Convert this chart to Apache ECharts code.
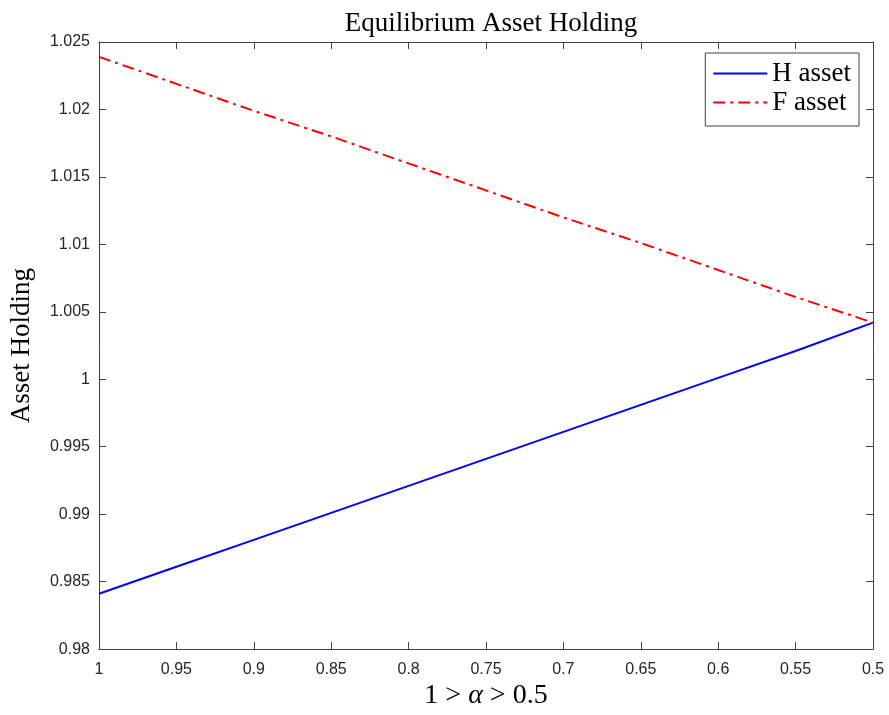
<!DOCTYPE html>
<html>
<head>
<meta charset="utf-8">
<script src="https://cdn.jsdelivr.net/npm/echarts@6/dist/echarts.min.js"></script>
<style>
  html, body { margin: 0; padding: 0; background: #fff; }
  #chart { width: 889px; height: 715px; }
</style>
</head>
<body>
<div id="chart"></div>
<script>
// alpha runs from 1 down to 0.5 (axis reversed)
const alphaValues = [1, 0.95, 0.9, 0.85, 0.8, 0.75, 0.7, 0.65, 0.6, 0.55, 0.5];
const hAsset = [0.9841, 0.9861, 0.9881, 0.9901, 0.9921, 0.9941, 0.9961, 0.9981, 1.0001, 1.0021, 1.0042];
const fAsset = [1.0239, 1.0219, 1.0199, 1.0180, 1.0160, 1.0140, 1.0120, 1.0101, 1.0081, 1.0061, 1.0042];

const serif = "'Liberation Serif', 'DejaVu Serif', serif";
const sans = "'Liberation Sans', Arial, sans-serif";
const axisColor = "#404040";

const chart = echarts.init(document.getElementById("chart"));

const xBase = {
  type: "value",
  min: 0.5,
  max: 1,
  interval: 0.05,
  inverse: true,
  splitLine: { show: false },
  axisLine: { show: true, onZero: false, lineStyle: { color: axisColor, width: 1 } },
  axisTick: { show: true, inside: true, length: 7, lineStyle: { color: axisColor } },
};
const yBase = {
  type: "value",
  min: 0.98,
  max: 1.025,
  interval: 0.005,
  splitLine: { show: false },
  axisLine: { show: true, onZero: false, lineStyle: { color: axisColor, width: 1 } },
  axisTick: { show: true, inside: true, length: 7, lineStyle: { color: axisColor } },
};

const option = {
  animation: false,
  backgroundColor: "#fff",
  title: {
    text: "Equilibrium Asset Holding",
    left: 486,
    textAlign: "center",
    top: 5,
    textStyle: { fontFamily: serif, fontWeight: "normal", fontSize: 27, color: "#000" },
  },
  legend: {
    orient: "vertical",
    right: 30,
    top: 53,
    itemWidth: 54,
    itemHeight: 14,
    itemGap: 2,
    padding: [7, 8, 10, 7],
    backgroundColor: "#fff",
    borderColor: axisColor,
    borderWidth: 1,
    borderRadius: 0,
    itemStyle: { opacity: 0 },
    textStyle: { fontFamily: serif, fontSize: 27, color: "#000" },
    data: ["H asset", "F asset"],
  },
  grid: { left: 99, right: 16, top: 42, bottom: 63 },
  xAxis: [
    Object.assign({}, xBase, {
      position: "bottom",
      name: "{n|1 > }{a|α}{n| > 0.5}",
      nameLocation: "middle",
      nameGap: 30,
      nameTextStyle: {
        rich: {
          n: { fontFamily: serif, fontSize: 28, color: "#000" },
          a: { fontFamily: serif, fontSize: 28, fontStyle: "italic", color: "#000" },
        },
      },
      axisLabel: {
        show: true,
        margin: 12,
        fontFamily: sans,
        fontSize: 16,
        color: "#262626",
        formatter: (v) => String(+v.toFixed(2)),
      },
    }),
    Object.assign({}, xBase, { position: "top", axisLabel: { show: false } }),
  ],
  yAxis: [
    Object.assign({}, yBase, {
      position: "left",
      name: "Asset Holding",
      nameLocation: "middle",
      nameGap: 64,
      nameRotate: 90,
      nameTextStyle: { fontFamily: serif, fontSize: 27, color: "#000" },
      axisLabel: {
        show: true,
        margin: 9,
        fontFamily: sans,
        fontSize: 16,
        color: "#262626",
        formatter: (v) => String(+v.toFixed(3)),
      },
    }),
    Object.assign({}, yBase, { position: "right", axisLabel: { show: false } }),
  ],
  series: [
    {
      name: "H asset",
      type: "line",
      xAxisIndex: 0,
      yAxisIndex: 0,
      symbol: "none",
      data: alphaValues.map((a, i) => [a, hAsset[i]]),
      lineStyle: { color: "#0000ff", width: 2, type: "solid" },
      itemStyle: { color: "#0000ff" },
    },
    {
      name: "F asset",
      type: "line",
      xAxisIndex: 0,
      yAxisIndex: 0,
      symbol: "none",
      data: alphaValues.map((a, i) => [a, fAsset[i]]),
      lineStyle: { color: "#ff0000", width: 2, type: [12, 5, 3, 5] },
      itemStyle: { color: "#ff0000" },
    },
  ],
};

chart.setOption(option);
</script>
</body>
</html>
